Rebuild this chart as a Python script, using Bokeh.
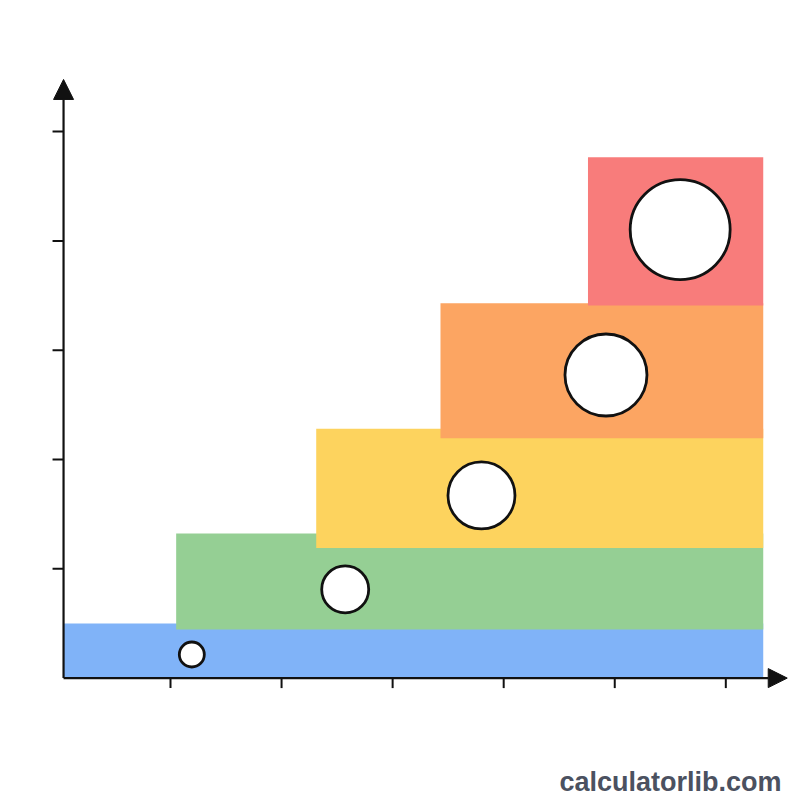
from bokeh.plotting import figure
from bokeh.models import Range1d, Arrow, NormalHead, Label, ColumnDataSource
from bokeh.embed import file_html
from bokeh.resources import INLINE

# ---- data (chart units: 1 unit = one tick interval) ----
band_names = ["blue", "green", "yellow", "orange", "red"]
band_left = [0.037, 1.051, 2.312, 3.431, 4.759]
band_right = [6.337, 6.337, 6.337, 6.337, 6.337]
band_bottom = [0.0, 0.445, 1.190, 2.194, 3.409]
band_top = [0.500, 1.323, 2.281, 3.430, 4.766]
band_colors = ["#80b3f8", "#95cf94", "#fdd35e", "#fca562", "#f87c7b"]

circle_x = [1.192, 2.573, 3.800, 4.921, 5.589]
circle_y = [0.216, 0.811, 1.671, 2.773, 4.104]
circle_size = [25, 47, 67, 82, 100]

x_ticks = [1, 2, 3, 4, 5, 6]
y_ticks = [1, 2, 3, 4, 5]
x_origin = 0.037
x_axis_end = 6.553
y_axis_end = 5.477

watermark = "calculatorlib.com"

# ---- figure ----
p = figure(width=800, height=800, output_backend="svg", toolbar_location=None,
           x_range=Range1d(-0.5307, 6.6725), y_range=Range1d(-1.1199, 6.1995),
           min_border=0)
p.axis.visible = False
p.grid.visible = False
p.outline_line_color = None
p.background_fill_color = "#ffffff"
p.border_fill_color = "#ffffff"

bands = ColumnDataSource(dict(left=band_left, right=band_right, bottom=band_bottom,
                              top=band_top, color=band_colors, name=band_names))
p.quad(left="left", right="right", bottom="bottom", top="top", fill_color="color",
       line_color=None, source=bands)

p.scatter(circle_x, circle_y, size=circle_size, marker="circle", fill_color="#ffffff",
          line_color="#111111", line_width=2.8)

# axes with arrow heads
p.add_layout(Arrow(x_start=x_origin, y_start=0, x_end=x_axis_end, y_end=0,
                   line_color="#111111", line_width=2.2,
                   end=NormalHead(size=19, fill_color="#111111", line_color="#111111")))
p.add_layout(Arrow(x_start=x_origin, y_start=0, x_end=x_origin, y_end=y_axis_end,
                   line_color="#111111", line_width=2.2,
                   end=NormalHead(size=20, fill_color="#111111", line_color="#111111")))

# tick marks
xt_len = 10 / 109.3
yt_len = 11 / 111.06
p.segment(x0=x_ticks, y0=[0] * len(x_ticks), x1=x_ticks, y1=[-xt_len] * len(x_ticks),
          line_color="#111111", line_width=2)
p.segment(x0=[x_origin - yt_len] * len(y_ticks), y0=y_ticks, x1=[x_origin] * len(y_ticks),
          y1=y_ticks, line_color="#111111", line_width=2)

p.add_layout(Label(x=6.5015, y=-0.955, text=watermark, text_align="right",
                   text_baseline="alphabetic", text_font="Liberation Sans",
                   text_font_style="bold", text_font_size="27px", text_color="#4b5160"))

open("out.html", "w").write(file_html(p, INLINE))
